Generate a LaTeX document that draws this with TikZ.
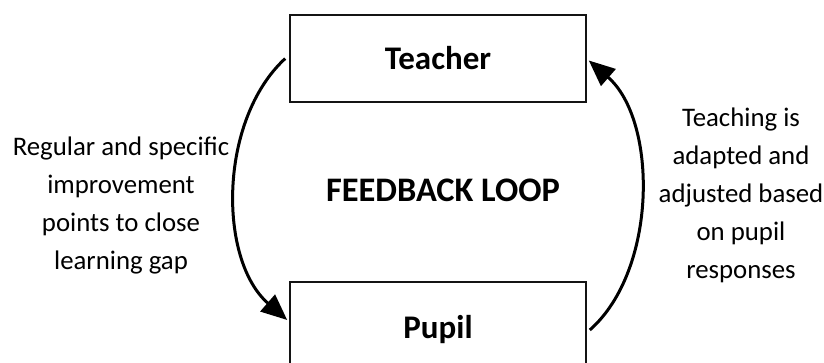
\documentclass[tikz,border=0pt]{standalone}
\usepackage{fontspec}
\setmainfont{Carlito}
\usetikzlibrary{positioning,arrows.meta}
\definecolor{edge}{RGB}{20,20,20}
\tikzset{
  role/.style={draw=edge,line width=0.8pt,minimum width=148pt,minimum height=43.5pt,inner sep=0pt,font=\fontsize{16.5}{20}\selectfont\bfseries},
  note/.style={align=center,font=\fontsize{13.4}{19}\selectfont},
  ar/.style={-{Triangle[length=13pt,width=11pt]},line width=1.5pt},
}
\begin{document}
\begin{tikzpicture}[x=0.5pt,y=-0.5pt]
  \useasboundingbox (0,0) rectangle (824,363);
  \node[role] (teacher) at (438,58.5) {Teacher};
  \node[role,minimum height=48pt] (pupil) at (438,330) {Pupil};
  \node[font=\fontsize{17.2}{20}\selectfont\bfseries] (loop) at (443,190) {FEEDBACK LOOP};
  \node[note] (give) at (121,205) {Regular and specific\\improvement\\points to close\\learning gap};
  \node[note] (adapt) at (741,195) {Teaching is\\adapted and\\adjusted based\\on pupil\\responses};
  \draw[ar] ([xshift=-2pt]teacher.west) .. controls +(-67,62) and +(-69,-60) .. ([xshift=-1pt,yshift=5pt]pupil.west);
  \draw[ar] ([xshift=1.5pt,yshift=0pt]pupil.east) .. controls +(68,-60) and +(69,60) .. ([xshift=1pt,yshift=-1pt]teacher.east);
\end{tikzpicture}
\end{document}
